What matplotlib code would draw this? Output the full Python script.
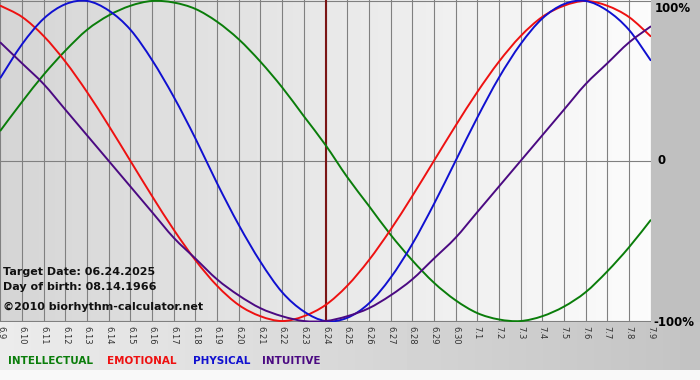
import numpy as np
import matplotlib
matplotlib.use("Agg")
import matplotlib.pyplot as plt
from matplotlib.path import Path
from matplotlib.patches import PathPatch

# days shown, 6.9 .. 7.9
day_labels = ["6.%d" % d for d in range(9, 31)] + ["7.%d" % d for d in range(1, 10)]
target_idx = 15  # 6.24

# values, percent, one per day
physical = [52, 73, 89, 98, 100, 94, 82, 63, 40, 14, -14, -40, -63, -82, -94, -100,
            -98, -89, -73, -52, -27, 0, 27, 52, 73, 89, 98, 100, 94, 82, 63]
emotional = [97, 90, 78, 62, 43, 22, 0, -22, -43, -62, -78, -90, -97, -100, -97, -90,
             -78, -62, -43, -22, 0, 22, 43, 62, 78, 90, 97, 100, 97, 90, 78]
intellectual = [19, 37, 54, 69, 82, 91, 97, 100, 99, 95, 87, 76, 62, 46, 28, 10,
                -10, -28, -46, -62, -76, -87, -95, -99, -100, -97, -91, -82, -69, -54, -37]
intuitive = [74, 61, 48, 32, 16, 0, -16, -32, -48, -61, -74, -84, -92, -97, -100, -100,
             -97, -92, -84, -74, -61, -48, -32, -16, 0, 16, 32, 48, 61, 74, 84]

c_int = "#0a7d0a"
c_emo = "#ee1111"
c_phy = "#1010d0"
c_itu = "#4b0a82"


def smooth_line(ax, xv, yv, color):
    # cubic bezier path through the points (catmull-rom style handles)
    xv = np.asarray(xv, float)
    yv = np.asarray(yv, float)
    pts = np.column_stack([xv, yv])
    verts = [pts[0]]
    codes = [Path.MOVETO]
    for i in range(len(pts) - 1):
        p0 = pts[i - 1] if i > 0 else pts[i]
        p1 = pts[i]
        p2 = pts[i + 1]
        p3 = pts[i + 2] if i + 2 < len(pts) else pts[i + 1]
        verts += [p1 + (p2 - p0) / 6.0, p2 - (p3 - p1) / 6.0, p2]
        codes += [Path.CURVE4] * 3
    ax.add_patch(PathPatch(Path(verts, codes), fill=False, edgecolor=color,
                           lw=1.4, zorder=3, capstyle="round"))


W, H = 700, 380
fig = plt.figure(figsize=(7, 3.8), dpi=100)

# background: grey right panel, gradient footer, white strip
bg = fig.add_axes([0, 0, 1, 1], zorder=0)
img = np.ones((H, W)) * 0.753
xs = np.linspace(0, 1, W)
foot = 0.925 - 0.16 * xs
img[322:370, :] = foot[None, :]
img[370:, :] = 0.975
bg.imshow(img, cmap="gray", vmin=0, vmax=1, aspect="auto", extent=[0, 1, 0, 1])
bg.set_axis_off()

n = len(day_labels)
x = np.arange(n)

ax = fig.add_axes([0, 1 - 322 / H, 651 / W, 322 / H], zorder=1)
ax.set_xlim(-0.02, n - 1 + 0.02)
ax.set_ylim(-100.6, 100.6)
grad = np.linspace(0.835, 0.985, 200)[None, :]
ax.imshow(grad, cmap="gray", vmin=0, vmax=1, aspect="auto",
          extent=[-0.02, n - 1 + 0.02, -100.6, 100.6], zorder=0)

for xi in x:
    ax.axvline(xi, color="#808080", lw=0.8, zorder=1)
for yv in (-100, 0, 100):
    ax.axhline(yv, color="#808080", lw=0.8, zorder=1)

smooth_line(ax, x, intellectual, c_int)
smooth_line(ax, x, emotional, c_emo)
smooth_line(ax, x, physical, c_phy)
smooth_line(ax, x, intuitive, c_itu)
ax.axvline(target_idx, color="#7a1515", lw=1.5, zorder=2)

ax.set_xticks(x)
ax.set_xticklabels(day_labels, rotation=270, fontsize=6, color="#333333")
ax.tick_params(axis="x", length=0, pad=3)
ax.set_yticks([])
for s in ax.spines.values():
    s.set_visible(False)

# right side labels
fig.text(655 / W, 1 - 8 / H, "100%", fontsize=8.5, fontweight="bold", va="center")
fig.text(657 / W, 1 - 161 / H, "0", fontsize=8.5, fontweight="bold", va="center")
fig.text(653 / W, 1 - 322 / H, "-100%", fontsize=8.5, fontweight="bold", va="center")

# info text inside plot
fig.text(3 / W, 1 - 272 / H, "Target Date: 06.24.2025", fontsize=8, fontweight="bold",
         va="center", color="#111111", zorder=5)
fig.text(3 / W, 1 - 287 / H, "Day of birth: 08.14.1966", fontsize=8, fontweight="bold",
         va="center", color="#111111", zorder=5)
fig.text(3 / W, 1 - 307 / H, "\u00a92010 biorhythm-calculator.net", fontsize=8,
         fontweight="bold", va="center", color="#111111", zorder=5)

# legend words
for xp, word, col in [(8, "INTELLECTUAL", c_int), (107, "EMOTIONAL", c_emo),
                      (193, "PHYSICAL", c_phy), (262, "INTUITIVE", c_itu)]:
    fig.text(xp / W, 1 - 361 / H, word, fontsize=7.5, fontweight="bold",
             color=col, va="center")

fig.savefig("out.png", dpi=100)
